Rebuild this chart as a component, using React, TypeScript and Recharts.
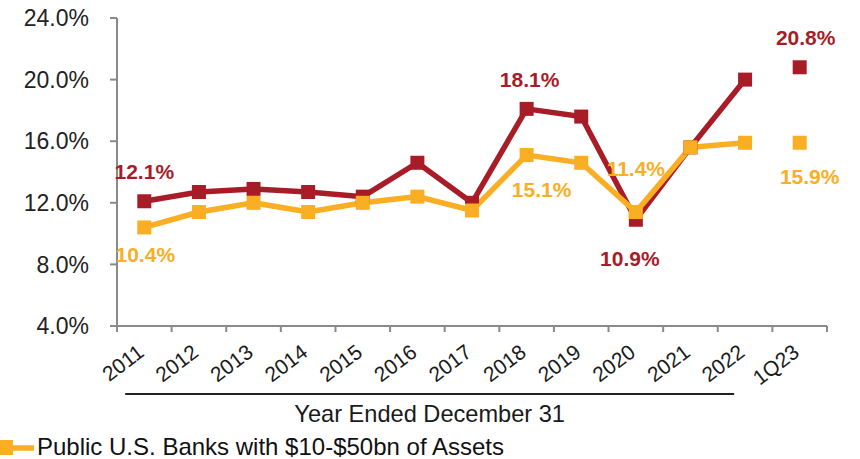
import React from "react";
import { LineChart, Line, XAxis, YAxis, Legend, LabelList } from "recharts";

const years = ["2011", "2012", "2013", "2014", "2015", "2016", "2017", "2018", "2019", "2020", "2021", "2022", "1Q23"];
// Last category (1Q23) is drawn as a standalone point, not joined to the yearly line
const redYearly = [12.1, 12.7, 12.9, 12.7, 12.4, 14.6, 12.0, 18.1, 17.6, 10.9, 15.6, 20.0, null];
const orangeYearly = [10.4, 11.4, 12.0, 11.4, 12.0, 12.4, 11.5, 15.1, 14.6, 11.4, 15.6, 15.9, null];
const redQuarter = [null, null, null, null, null, null, null, null, null, null, null, null, 20.8];
const orangeQuarter = [null, null, null, null, null, null, null, null, null, null, null, null, 15.9];
const yTicks = [4, 8, 12, 16, 20, 24];
const legendName = "Public U.S. Banks with $10-$50bn of Assets";
const axisTitle = "Year Ended December 31";

const data = years.map((year, i) => ({
    year,
    red: redYearly[i],
    orange: orangeYearly[i],
    redQ: redQuarter[i],
    orangeQ: orangeQuarter[i],
}));

const RED = "#A81C27";
const ORANGE = "#F9AE24";
const AXIS = "#8a8a8a";
const FONT = "'Liberation Sans', Arial, sans-serif";

const W = 860;
const H = 459;
const MARGIN = { top: 18, right: 33, bottom: 0, left: 0 };
const Y_W = 117;
const BAND = (W - Y_W - MARGIN.right) / years.length;

// which points carry a value label, and where it sits relative to the point
const LABEL_POS: Record<string, Record<string, { dx: number; dy: number }>> = {
    red: { "2011": { dx: 0, dy: -22 }, "2018": { dx: 3, dy: -22 }, "2020": { dx: -6, dy: 46 }, "1Q23": { dx: 6, dy: -22 } },
    orange: { "2011": { dx: 1, dy: 35 }, "2018": { dx: 15, dy: 42 }, "2020": { dx: 0, dy: -36 }, "1Q23": { dx: 10, dy: 41 } },
};

const squareDot = (color: string) => (props: any) => {
    const { cx, cy, index } = props;
    if (cx == null || cy == null || props.value == null) return <g key={index} />;
    return <rect key={index} x={cx - 7} y={cy - 7} width={14} height={14} fill={color} />;
};

const valueLabel = (series: string, color: string) => (props: any) => {
    const { x, y, value, index } = props;
    const pos = LABEL_POS[series][years[index]];
    if (!pos || value == null) return null;
    return (
        <text x={x + pos.dx} y={y + pos.dy} textAnchor="middle" fill={color} fontSize={21} fontWeight="bold" fontFamily={FONT}>
            {Number(value).toFixed(1)}%
        </text>
    );
};

const XTick = (props: any) => {
    const { x, y, payload, index } = props;
    return (
        <g>
            <line x1={x - BAND / 2} x2={x - BAND / 2} y1={y} y2={y + 6} stroke={AXIS} strokeWidth={2} />
            {index === years.length - 1 && <line x1={x + BAND / 2} x2={x + BAND / 2} y1={y} y2={y + 6} stroke={AXIS} strokeWidth={2} />}
            <text x={x + 1} y={y + 29} textAnchor="end" fontSize={21} fill="#1a1a1a" fontFamily={FONT} transform={`rotate(-37, ${x + 1}, ${y + 29})`}>
                {payload.value}
            </text>
        </g>
    );
};

const AxisTitle = (props: any) => {
    const vb = props.viewBox;
    const x1 = vb.x + BAND * 0.15;
    const x2 = vb.x + BAND * 11.3;
    return (
        <g>
            <line x1={x1} x2={x2} y1={vb.y + 68} y2={vb.y + 68} stroke="#222" strokeWidth={2} />
            <text x={(x1 + x2) / 2} y={vb.y + 96} textAnchor="middle" fontSize={23.6} fill="#1a1a1a" fontFamily={FONT}>
                {axisTitle}
            </text>
        </g>
    );
};

const LegendContent = () => (
    <svg width={560} height={33} style={{ display: "block" }}>
        <line x1={0} x2={34} y1={22} y2={22} stroke={ORANGE} strokeWidth={5.5} />
        <rect x={-2} y={14} width={15} height={15} fill={ORANGE} />
        <text x={37} y={29} fontSize={24} fill="#111" fontFamily={FONT}>
            {legendName}
        </text>
    </svg>
);

export default function App() {
    return (
        <div style={{ position: "absolute", left: 0, top: 0, width: W, height: H, background: "#fff", fontFamily: FONT }}>
            <LineChart width={W} height={H} data={data} margin={MARGIN}>
                <XAxis
                    dataKey="year"
                    scale="band"
                    height={100}
                    interval={0}
                    stroke={AXIS}
                    strokeWidth={2}
                    tickLine={false}
                    tickSize={0}
                    tickMargin={0}
                    tick={<XTick />}
                    label={<AxisTitle />}
                />
                <YAxis
                    width={Y_W}
                    domain={[4, 24]}
                    ticks={yTicks}
                    interval={0}
                    stroke={AXIS}
                    strokeWidth={2}
                    tickSize={7}
                    tickMargin={21}
                    tickFormatter={(v: number) => `${v.toFixed(1)}%`}
                    tick={{ fill: "#222", fontSize: 23, fontFamily: FONT }}
                />
                <Legend verticalAlign="bottom" align="left" height={33} content={<LegendContent />} />
                <Line dataKey="red" stroke={RED} strokeWidth={5.5} dot={squareDot(RED)} activeDot={false} isAnimationActive={false} legendType="none">
                    <LabelList dataKey="red" content={valueLabel("red", RED)} />
                </Line>
                <Line dataKey="redQ" stroke="none" dot={squareDot(RED)} activeDot={false} isAnimationActive={false} legendType="none">
                    <LabelList dataKey="redQ" content={valueLabel("red", RED)} />
                </Line>
                <Line dataKey="orange" stroke={ORANGE} strokeWidth={5.5} dot={squareDot(ORANGE)} activeDot={false} isAnimationActive={false} name={legendName}>
                    <LabelList dataKey="orange" content={valueLabel("orange", ORANGE)} />
                </Line>
                <Line dataKey="orangeQ" stroke="none" dot={squareDot(ORANGE)} activeDot={false} isAnimationActive={false} legendType="none">
                    <LabelList dataKey="orangeQ" content={valueLabel("orange", ORANGE)} />
                </Line>
            </LineChart>
        </div>
    );
}
